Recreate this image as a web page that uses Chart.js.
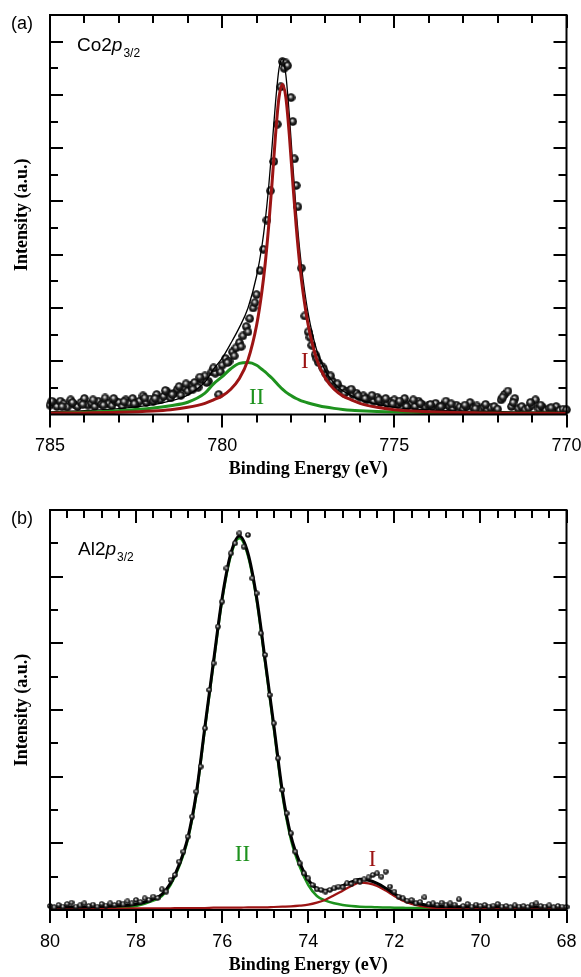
<!DOCTYPE html>
<html>
<head>
<meta charset="utf-8">
<script src="https://cdn.jsdelivr.net/npm/chart.js@4.4.1/dist/chart.umd.min.js"></script>
<style>
  html, body { margin: 0; padding: 0; background: #fff; }
  .panel { position: absolute; left: 0; width: 581px; }
</style>
</head>
<body>
<div class="panel" style="top:0;height:488px"><canvas id="chartA" width="581" height="488"></canvas></div>
<div class="panel" style="top:488px;height:489px"><canvas id="chartB" width="581" height="489"></canvas></div>
<script>
// ---- (a) Co2p3/2 ----
const coCurveE = [785, 784, 783, 782, 781.5, 781, 780.5, 780.25, 780, 779.75, 779.5, 779.25, 779, 778.85, 778.75, 778.65, 778.55, 778.45, 778.35, 778.25,
  778.15, 778.05, 777.95, 777.85, 777.75, 777.65, 777.5, 777.25, 777, 776.75, 776.5, 776.25, 776, 775.5, 775, 774.5, 773.5, 772.5, 771.5, 770];
const coPeakI = [.05, .06, .08, .13, .18, .27, .42, .55, .7, .95, 1.35, 2.05, 3.35, 4.58, 5.67, 7.06, 8.72, 10.5, 11.9, 12.4,
  11.9, 10.5, 8.72, 7.06, 5.67, 4.58, 3.35, 2.05, 1.35, .95, .7, .55, .42, .27, .18, .13, .08, .06, .05, .04];
const coPeakII = [.05, .08, .14, .24, .33, .46, .8, 1.15, 1.42, 1.72, 1.92, 1.95, 1.85, 1.7, 1.6, 1.48, 1.36, 1.22, 1.08, .95,
  .84, .75, .67, .6, .54, .49, .43, .35, .28, .23, .19, .16, .14, .11, .09, .08, .06, .05, .05, .04];
const coFit = [.10, .14, .22, .37, .51, .73, 1.22, 1.70, 2.12, 2.67, 3.27, 4.0, 5.2, 6.28, 7.27, 8.54, 10.08, 11.72, 12.98, 13.35,
  12.74, 11.25, 9.39, 7.66, 6.21, 5.07, 3.78, 2.4, 1.63, 1.18, .89, .71, .56, .38, .27, .21, .14, .11, .10, .08];

const coPointE = [
  785.0, 784.9, 784.8, 784.7, 784.6, 784.5, 784.4, 784.3, 784.2, 784.1,
  784.0, 783.9, 783.8, 783.7, 783.6, 783.5, 783.4, 783.3, 783.2, 783.1,
  783.0, 782.9, 782.8, 782.7, 782.6, 782.5, 782.4, 782.3, 782.2, 782.1,
  782.0, 781.9, 781.8, 781.7, 781.6, 781.5, 781.4, 781.3, 781.2, 781.1,
  781.0, 780.9, 780.8, 780.7, 780.6, 780.5, 780.4, 780.3, 780.2, 780.1,
  780.0, 779.9, 779.8, 779.7, 779.6, 779.5, 779.4, 779.3, 779.2, 779.1,
  779.0, 778.9, 778.8, 778.7, 778.6, 778.5, 778.4, 778.3, 778.25, 778.2, 778.15, 778.1,
  778.0, 777.95, 777.9, 777.85, 777.8, 777.7, 777.6, 777.5, 777.4, 777.3, 777.2, 777.1,
  777.0, 776.9, 776.8, 776.7, 776.6, 776.5, 776.4, 776.3, 776.2, 776.1,
  776.0, 775.9, 775.8, 775.7, 775.6, 775.5, 775.4, 775.3, 775.2, 775.1,
  775.0, 774.9, 774.8, 774.7, 774.6, 774.5, 774.4, 774.3, 774.2, 774.1,
  774.0, 773.9, 773.8, 773.7, 773.6, 773.5, 773.4, 773.3, 773.2, 773.1,
  773.0, 772.9, 772.8, 772.7, 772.6, 772.5, 772.4, 772.3, 772.2, 772.1,
  772.0, 771.9, 771.8, 771.7, 771.6, 771.5, 771.4, 771.3, 771.2, 771.1,
  771.0, 770.9, 770.8, 770.7, 770.6, 770.5, 770.4, 770.3, 770.2, 770.1,
  770.0,
  784.95, 784.65, 784.35, 784.05, 783.75, 783.45, 783.15, 782.85, 782.55, 782.25,
  781.95, 781.65, 781.45, 781.25, 781.05, 780.85, 780.65, 780.45, 780.25, 780.05,
  779.85, 779.65, 779.45, 779.25, 779.05,
  777.45, 777.25, 777.05, 776.85, 776.65, 776.45, 776.25, 776.05, 775.85, 775.65,
  775.45, 775.25, 775.05, 774.85, 774.65, 774.45, 774.25, 773.95, 773.65, 773.35,
  772.95, 772.65, 772.35, 771.85, 771.55, 771.05, 770.75, 770.45];
const coPointI = [
  .35, .45, .3, .5, .4, .28, .55, .38, .3, .45,
  .6, .35, .42, .3, .5, .38, .62, .4, .33, .5,
  .45, .3, .55, .42, .6, .38, .5, .7, .45, .58,
  .5, .75, .55, .68, .85, .62, .8, .95, .72, 1.0,
  .88, 1.1, 1.2, 1.02, 1.3, 1.45, 1.25, 1.6, 1.55, .75,
  1.85, 2.1, 2.0, 2.35, 2.5, 2.7, 2.95, 3.3, 3.6, 4.0,
  4.5, 5.4, 6.2, 7.3, 8.4, 9.5, 10.9, 12.3, 13.25, 13.0, 13.2, 13.1,
  11.9, 11.0, 9.6, 8.6, 7.8, 5.5, 3.7, 3.1, 2.6, 2.25, 1.95, 1.8,
  1.55, 1.35, 1.25, 1.1, 1.0, .95, .85, .9, .75, .8,
  .65, .7, .55, .6, .5, .65, .45, .52, .4, .48,
  .55, .38, .45, .6, .35, .42, .3, .5, .38, .28,
  .35, .3, .42, .25, .33, .5, .3, .22, .35, .28,
  .2, .3, .45, .25, .32, .2, .28, .18, .25, .3,
  .2, .55, .75, .88, .3, .6, .22, .3, .18, .25,
  .35, .55, .2, .28, .15, .22, .18, .3, .15, .2,
  .18,
  .5, .3, .45, .38, .55, .35, .6, .48, .4, .62,
  .6, .9, .75, 1.05, 1.15, .95, 1.4, 1.2, 1.75, 1.6,
  1.95, 2.2, 2.55, 3.1, 4.2,
  2.9, 2.1, 1.7, 1.45, 1.15, .8, .95, .7, .6, .72,
  .55, .6, .4, .5, .3, .55, .42, .38, .3, .4,
  .35, .22, .38, .65, .45, .45, .35, .25];

const coMajorX = [785, 780, 775, 770];
const coMinorX = [784, 783, 782, 781, 779, 778, 777, 776, 774, 773, 772, 771];
const coMajorY = [2, 4, 6, 8, 10, 12, 14];
const coMinorY = [1, 3, 5, 7, 9, 11, 13];

// ---- (b) Al2p3/2 ----
const alCurveE = [80, 79, 78.5, 78, 77.6, 77.4, 77.2, 77.0, 76.8, 76.6, 76.4, 76.2, 76.0, 75.8, 75.6,
  75.4, 75.2, 75.0, 74.8, 74.6, 74.4, 74.2, 74.0, 73.8, 73.6, 73.4, 73.2, 73.0, 72.8, 72.6, 72.4, 72.2, 72.0,
  71.8, 71.6, 71.4, 71.2, 71.0, 70.5, 70, 69, 68];
const alPeakII = [.05, .06, .08, .12, .28, .42, .75, 1.3, 2.1, 3.45, 5.45, 7.4, 9.3, 10.62, 11.15,
  10.62, 9.3, 7.4, 5.45, 3.45, 2.1, 1.3, .75, .42, .28, .2, .15, .12, .1, .09, .08, .075, .07,
  .065, .06, .06, .055, .05, .05, .05, .04, .04];
const alPeakI = [.04, .04, .04, .05, .05, .05, .05, .06, .06, .06, .06, .07, .07, .07, .07,
  .08, .08, .08, .09, .1, .11, .13, .16, .22, .31, .44, .58, .72, .82, .8, .72, .58, .42,
  .28, .18, .12, .08, .06, .05, .05, .05, .05];
const alFit = [.09, .10, .12, .17, .33, .47, .80, 1.36, 2.16, 3.51, 5.51, 7.47, 9.37, 10.69, 11.22,
  10.7, 9.38, 7.48, 5.54, 3.55, 2.21, 1.43, .91, .64, .59, .64, .73, .84, .92, .89, .80, .655, .49,
  .345, .24, .18, .135, .11, .10, .10, .09, .09];

const alPointE = [
  80.0, 79.9, 79.8, 79.7, 79.6, 79.5, 79.4, 79.3, 79.2, 79.1,
  79.0, 78.9, 78.8, 78.7, 78.6, 78.5, 78.4, 78.3, 78.2, 78.1,
  78.0, 77.9, 77.8, 77.7, 77.6, 77.5, 77.4, 77.3, 77.2, 77.1,
  77.0, 76.9, 76.8, 76.7, 76.6, 76.5, 76.4, 76.3, 76.2, 76.1,
  76.0, 75.9, 75.8, 75.7, 75.6, 75.5, 75.4, 75.3, 75.2, 75.1,
  75.0, 74.9, 74.8, 74.7, 74.6, 74.5, 74.4, 74.3, 74.2, 74.1,
  74.0, 73.9, 73.8, 73.7, 73.6, 73.5, 73.4, 73.3, 73.2, 73.1,
  73.0, 72.9, 72.8, 72.7, 72.6, 72.5, 72.4, 72.3, 72.2, 72.1,
  72.0, 71.9, 71.8, 71.7, 71.6, 71.5, 71.4, 71.3, 71.2, 71.1,
  71.0, 70.9, 70.8, 70.7, 70.6, 70.5, 70.4, 70.3, 70.2, 70.1,
  70.0, 69.9, 69.8, 69.7, 69.6, 69.5, 69.4, 69.3, 69.2, 69.1,
  69.0, 68.9, 68.8, 68.7, 68.6, 68.5, 68.4, 68.3, 68.2, 68.1,
  68.0];
const alPointI = [
  .12, .08, .15, .1, .18, .22, .1, .14, .2, .12,
  .16, .1, .18, .13, .2, .15, .22, .17, .26, .2,
  .3, .24, .35, .3, .4, .36, .62, .55, .9, 1.05,
  1.45, 1.75, 2.2, 2.8, 3.55, 4.3, 5.45, 6.6, 7.4, 8.5,
  9.25, 10.25, 10.7, 11.0, 11.3, 10.9, 11.25, 9.95, 9.5, 8.3,
  7.65, 6.45, 5.6, 4.55, 3.6, 2.9, 2.3, 1.75, 1.4, 1.1,
  .95, .75, .62, .6, .55, .6, .65, .7, .68, .8,
  .78, .88, .85, .92, .98, 1.05, 1.1, 1.0, 1.15, .7,
  .55, .4, .35, .28, .3, .2, .24, .38, .18, .2,
  .15, .22, .14, .2, .16, .32, .12, .18, .1, .16,
  .12, .15, .1, .13, .18, .1, .12, .08, .14, .1,
  .12, .09, .16, .2, .12, .1, .14, .08, .12, .1,
  .09];

const alMajorX = [80, 78, 76, 74, 72, 70, 68];
const alMinorX = [79.6, 79.2, 78.8, 78.4, 77.6, 77.2, 76.8, 76.4, 75.6, 75.2, 74.8, 74.4,
  73.6, 73.2, 72.8, 72.4, 71.6, 71.2, 70.8, 70.4, 69.6, 69.2, 68.8, 68.4];
const alMajorY = [2, 4, 6, 8, 10];
const alMinorY = [1, 3, 5, 7, 9, 11];

const RED = '#9c1414';
const GREEN = '#1e921e';
const SANS = '"Liberation Sans", Arial, sans-serif';
const SERIF = '"Liberation Serif", "Times New Roman", serif';

function sphere(d) {
  const c = document.createElement('canvas');
  c.width = c.height = d;
  const g = c.getContext('2d');
  const r = d / 2;
  const grad = g.createRadialGradient(r * 0.85, r * 0.75, 0, r, r, r);
  grad.addColorStop(0, '#ffffff');
  grad.addColorStop(0.22, '#b0b0b0');
  grad.addColorStop(0.5, '#2a2a2a');
  grad.addColorStop(1, '#000000');
  g.fillStyle = grad;
  g.beginPath();
  g.arc(r, r, r - 0.2, 0, Math.PI * 2);
  g.fill();
  return c;
}

const pairs = (xs, ys) => xs.map((x, i) => ({ x, y: ys[i] }));

// frame, inward/outward ticks and all texts
const framePlugin = {
  id: 'frame',
  afterDatasetsDraw(chart, args, o) {
    const { ctx, chartArea: a, scales: { x, y } } = chart;
    ctx.save();
    ctx.strokeStyle = '#000';
    ctx.lineWidth = 2;
    ctx.beginPath();
    const tick = (vals, len) => {
      vals.forEach(v => {
        const px = Math.round(x.getPixelForValue(v));
        ctx.moveTo(px, a.bottom); ctx.lineTo(px, a.bottom + len);
        ctx.moveTo(px, a.top); ctx.lineTo(px, a.top + len);
      });
    };
    const ytick = (vals, len) => {
      vals.forEach(v => {
        const py = Math.round(y.getPixelForValue(v));
        ctx.moveTo(a.left, py); ctx.lineTo(a.left + len, py);
        ctx.moveTo(a.right, py); ctx.lineTo(a.right - len, py);
      });
    };
    tick(o.xMajor, 13);
    tick(o.xMinor, 8);
    ytick(o.yMajor, 13);
    ytick(o.yMinor, 8);
    ctx.stroke();
    ctx.strokeRect(a.left, a.top, a.right - a.left, a.bottom - a.top);

    ctx.fillStyle = '#000';
    ctx.textAlign = 'center';
    ctx.textBaseline = 'middle';
    ctx.font = '18px ' + SANS;
    o.xMajor.forEach(v => ctx.fillText(String(v), x.getPixelForValue(v), a.bottom + 32));

    ctx.font = 'bold 18px ' + SERIF;
    ctx.fillText(o.xTitle, (a.left + a.right) / 2, a.bottom + 55);
    ctx.save();
    ctx.translate(22, (a.top + a.bottom) / 2);
    ctx.rotate(-Math.PI / 2);
    ctx.fillText(o.yTitle, 0, 0);
    ctx.restore();

    ctx.textAlign = 'left';
    ctx.font = '18px ' + SANS;
    ctx.fillText(o.panel, 11, a.top + 9);

    // species label with italic p and subscript
    ctx.textBaseline = 'alphabetic';
    let sx = a.left + o.species.dx;
    const sy = a.top + o.species.dy;
    ctx.font = '19px ' + SANS;
    ctx.fillText(o.species.text[0], sx, sy);
    sx += ctx.measureText(o.species.text[0]).width;
    ctx.font = 'italic 19px ' + SANS;
    ctx.fillText(o.species.text[1], sx, sy);
    sx += ctx.measureText(o.species.text[1]).width;
    ctx.font = '12px ' + SANS;
    ctx.fillText(o.species.text[2], sx + 1, sy + 6);

    ctx.textAlign = 'center';
    ctx.textBaseline = 'middle';
    ctx.font = '23px ' + SERIF;
    o.marks.forEach(m => {
      ctx.fillStyle = m.color;
      ctx.fillText(m.text, x.getPixelForValue(m.x), y.getPixelForValue(m.y));
    });
    ctx.restore();
  }
};

function curve(data, color, width, order) {
  return {
    type: 'line', data, borderColor: color, borderWidth: width, pointRadius: 0,
    cubicInterpolationMode: 'monotone', fill: false, order, clip: false
  };
}

function makePanel(id, cfg) {
  new Chart(document.getElementById(id), {
    type: 'scatter',
    data: { datasets: cfg.datasets },
    options: {
      responsive: false,
      animation: false,
      events: [],
      layout: { padding: cfg.padding },
      scales: {
        x: { type: 'linear', reverse: true, min: cfg.xMin, max: cfg.xMax, display: false },
        y: { type: 'linear', min: 0, max: cfg.yMax, display: false }
      },
      plugins: { legend: { display: false }, tooltip: { enabled: false }, frame: cfg.frame }
    },
    plugins: [framePlugin]
  });
}

makePanel('chartA', {
  xMin: 770, xMax: 785, yMax: 15,
  padding: { left: 50, top: 15, right: 14.5, bottom: 73.5 },
  datasets: [
    { data: pairs(coPointE, coPointI), pointStyle: sphere(9), pointRadius: 4.5, showLine: false, order: 4, clip: false },
    curve(pairs(coCurveE, coFit), '#000000', 1.3, 3),
    curve(pairs(coCurveE, coPeakII), GREEN, 3, 2),
    curve(pairs(coCurveE, coPeakI), RED, 3, 1)
  ],
  frame: {
    xMajor: coMajorX, xMinor: coMinorX, yMajor: coMajorY, yMinor: coMinorY,
    xTitle: 'Binding Energy (eV)', yTitle: 'Intensity (a.u.)', panel: '(a)',
    species: { text: ['Co2', 'p', '3/2'], dx: 27, dy: 36 },
    marks: [
      { text: 'I', color: RED, x: 777.6, y: 1.97 },
      { text: 'II', color: GREEN, x: 779.0, y: 0.62 }
    ]
  }
});

makePanel('chartB', {
  xMin: 68, xMax: 80, yMax: 12,
  padding: { left: 50, top: 22, right: 14.5, bottom: 67 },
  datasets: [
    { data: pairs(alPointE, alPointI), pointStyle: sphere(6), pointRadius: 3, showLine: false, order: 1, clip: false },
    curve(pairs(alCurveE, alFit), '#000000', 3, 2),
    curve(pairs(alCurveE, alPeakI), RED, 2.2, 3),
    curve(pairs(alCurveE, alPeakII), GREEN, 2.5, 4)
  ],
  frame: {
    xMajor: alMajorX, xMinor: alMinorX, yMajor: alMajorY, yMinor: alMinorY,
    xTitle: 'Binding Energy (eV)', yTitle: 'Intensity (a.u.)', panel: '(b)',
    species: { text: ['Al2', 'p', '3/2'], dx: 28, dy: 45 },
    marks: [
      { text: 'I', color: RED, x: 72.51, y: 1.5 },
      { text: 'II', color: GREEN, x: 75.53, y: 1.65 }
    ]
  }
});
</script>
</body>
</html>
